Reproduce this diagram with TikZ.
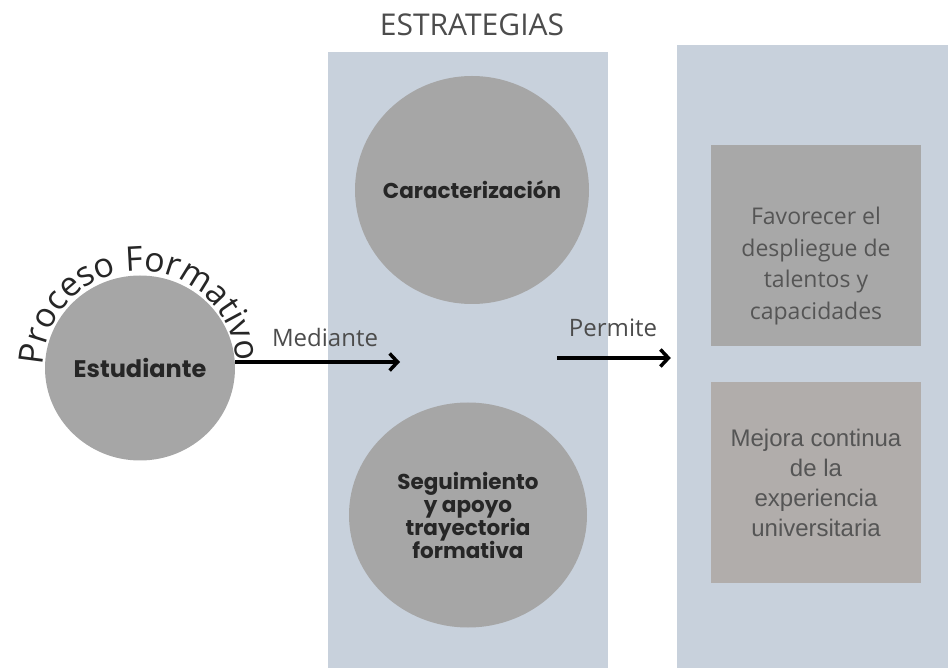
\documentclass[tikz,border=0pt]{standalone}
\usepackage{fontspec}
\setmainfont{Open Sans}
\newfontfamily\popfont{Poppins}
\newfontfamily\arialfont{Liberation Sans}
\usepackage{xcolor}
\usepackage{tikz}
\usetikzlibrary{positioning}
\usetikzlibrary{calc}
\usetikzlibrary{arrows.meta}
\usetikzlibrary{shapes.geometric}
\usetikzlibrary{decorations.text}

\definecolor{panelblue}{HTML}{C8D1DC}
\definecolor{discgray}{HTML}{A6A6A6}
\definecolor{boxgray}{HTML}{A8A8A8}
\definecolor{boxwarm}{HTML}{B1ADAB}
\definecolor{boxtext}{HTML}{555555}

\begin{document}
\begin{tikzpicture}[x=1pt,y=1pt,
  panel/.style={fill=panelblue, inner sep=0pt},
  disc/.style={ellipse, fill=discgray, inner sep=0pt, align=center, text=black!85,
    font=\popfont\bfseries\fontsize{21.5}{23}\selectfont},
  resbox/.style={fill=#1, minimum width=210pt, minimum height=201pt, inner sep=0pt},
  flow/.style={line width=3.5pt, -{Straight Barb[length=8pt,width=17pt]}}]
\useasboundingbox (0,0) rectangle (948,670);

% panels
\node (strat) [panel, minimum width=280pt, minimum height=616pt] at (468,310) {};
\node (res) [panel, minimum width=271pt, minimum height=623pt] at (812.5,313.5) {};
\node (strat_title) [above=12pt of strat, xshift=4pt, text=black!70,
  font=\fontsize{30}{36}\selectfont] {ESTRATEGIAS};

% student
\node (est) [disc, minimum width=190pt, minimum height=185pt,
  font=\popfont\bfseries\fontsize{24}{28}\selectfont] at (140,302) {Estudiante};
\path [decorate, decoration={text along path, text align=center, text color=black!85,
  text={|\fontsize{34}{40}\selectfont|Proceso Formativo}}]
  ($(est.center)+(176:97)$) arc [start angle=176, end angle=6, radius=97];

% strategies
\node (strat_car) [disc, minimum width=234pt, minimum height=228pt] at (472,480)
  {\makebox[0pt]{Caracterización}};
\node (strat_seg) [disc, minimum width=238pt, minimum height=225pt] at (468,155)
  {Seguimiento\\y apoyo\\trayectoria\\formativa};

% results
\node (res_fav) [resbox=boxgray] at (816,424) {};
\node (res_fav_txt) [align=center, text=boxtext, font=\fontsize{23}{31.7}\selectfont]
  at ($(res_fav)+(0,-20)$) {Favorecer el\\despliegue de\\talentos y\\capacidades};
\node (res_mej) [resbox=boxwarm, align=center, text=boxtext,
  font=\arialfont\fontsize{24}{30}\selectfont] at (816,187.5)
  {Mejora continua\\de la\\experiencia\\universitaria};

% arrows
\coordinate (med_end) at (400,308);
\draw [flow] (est.east |- med_end) -- (med_end);
\node (med_lbl) [text=black!70, font=\fontsize{24}{28}\selectfont] at (325,332) {Mediante};

\coordinate (per_start) at (557,312);
\draw [flow, shorten >=6pt] (per_start) -- (res.west |- per_start);
\node (per_lbl) [text=black!70, font=\fontsize{24}{28}\selectfont] at (613,342) {Permite};
\end{tikzpicture}
\end{document}
